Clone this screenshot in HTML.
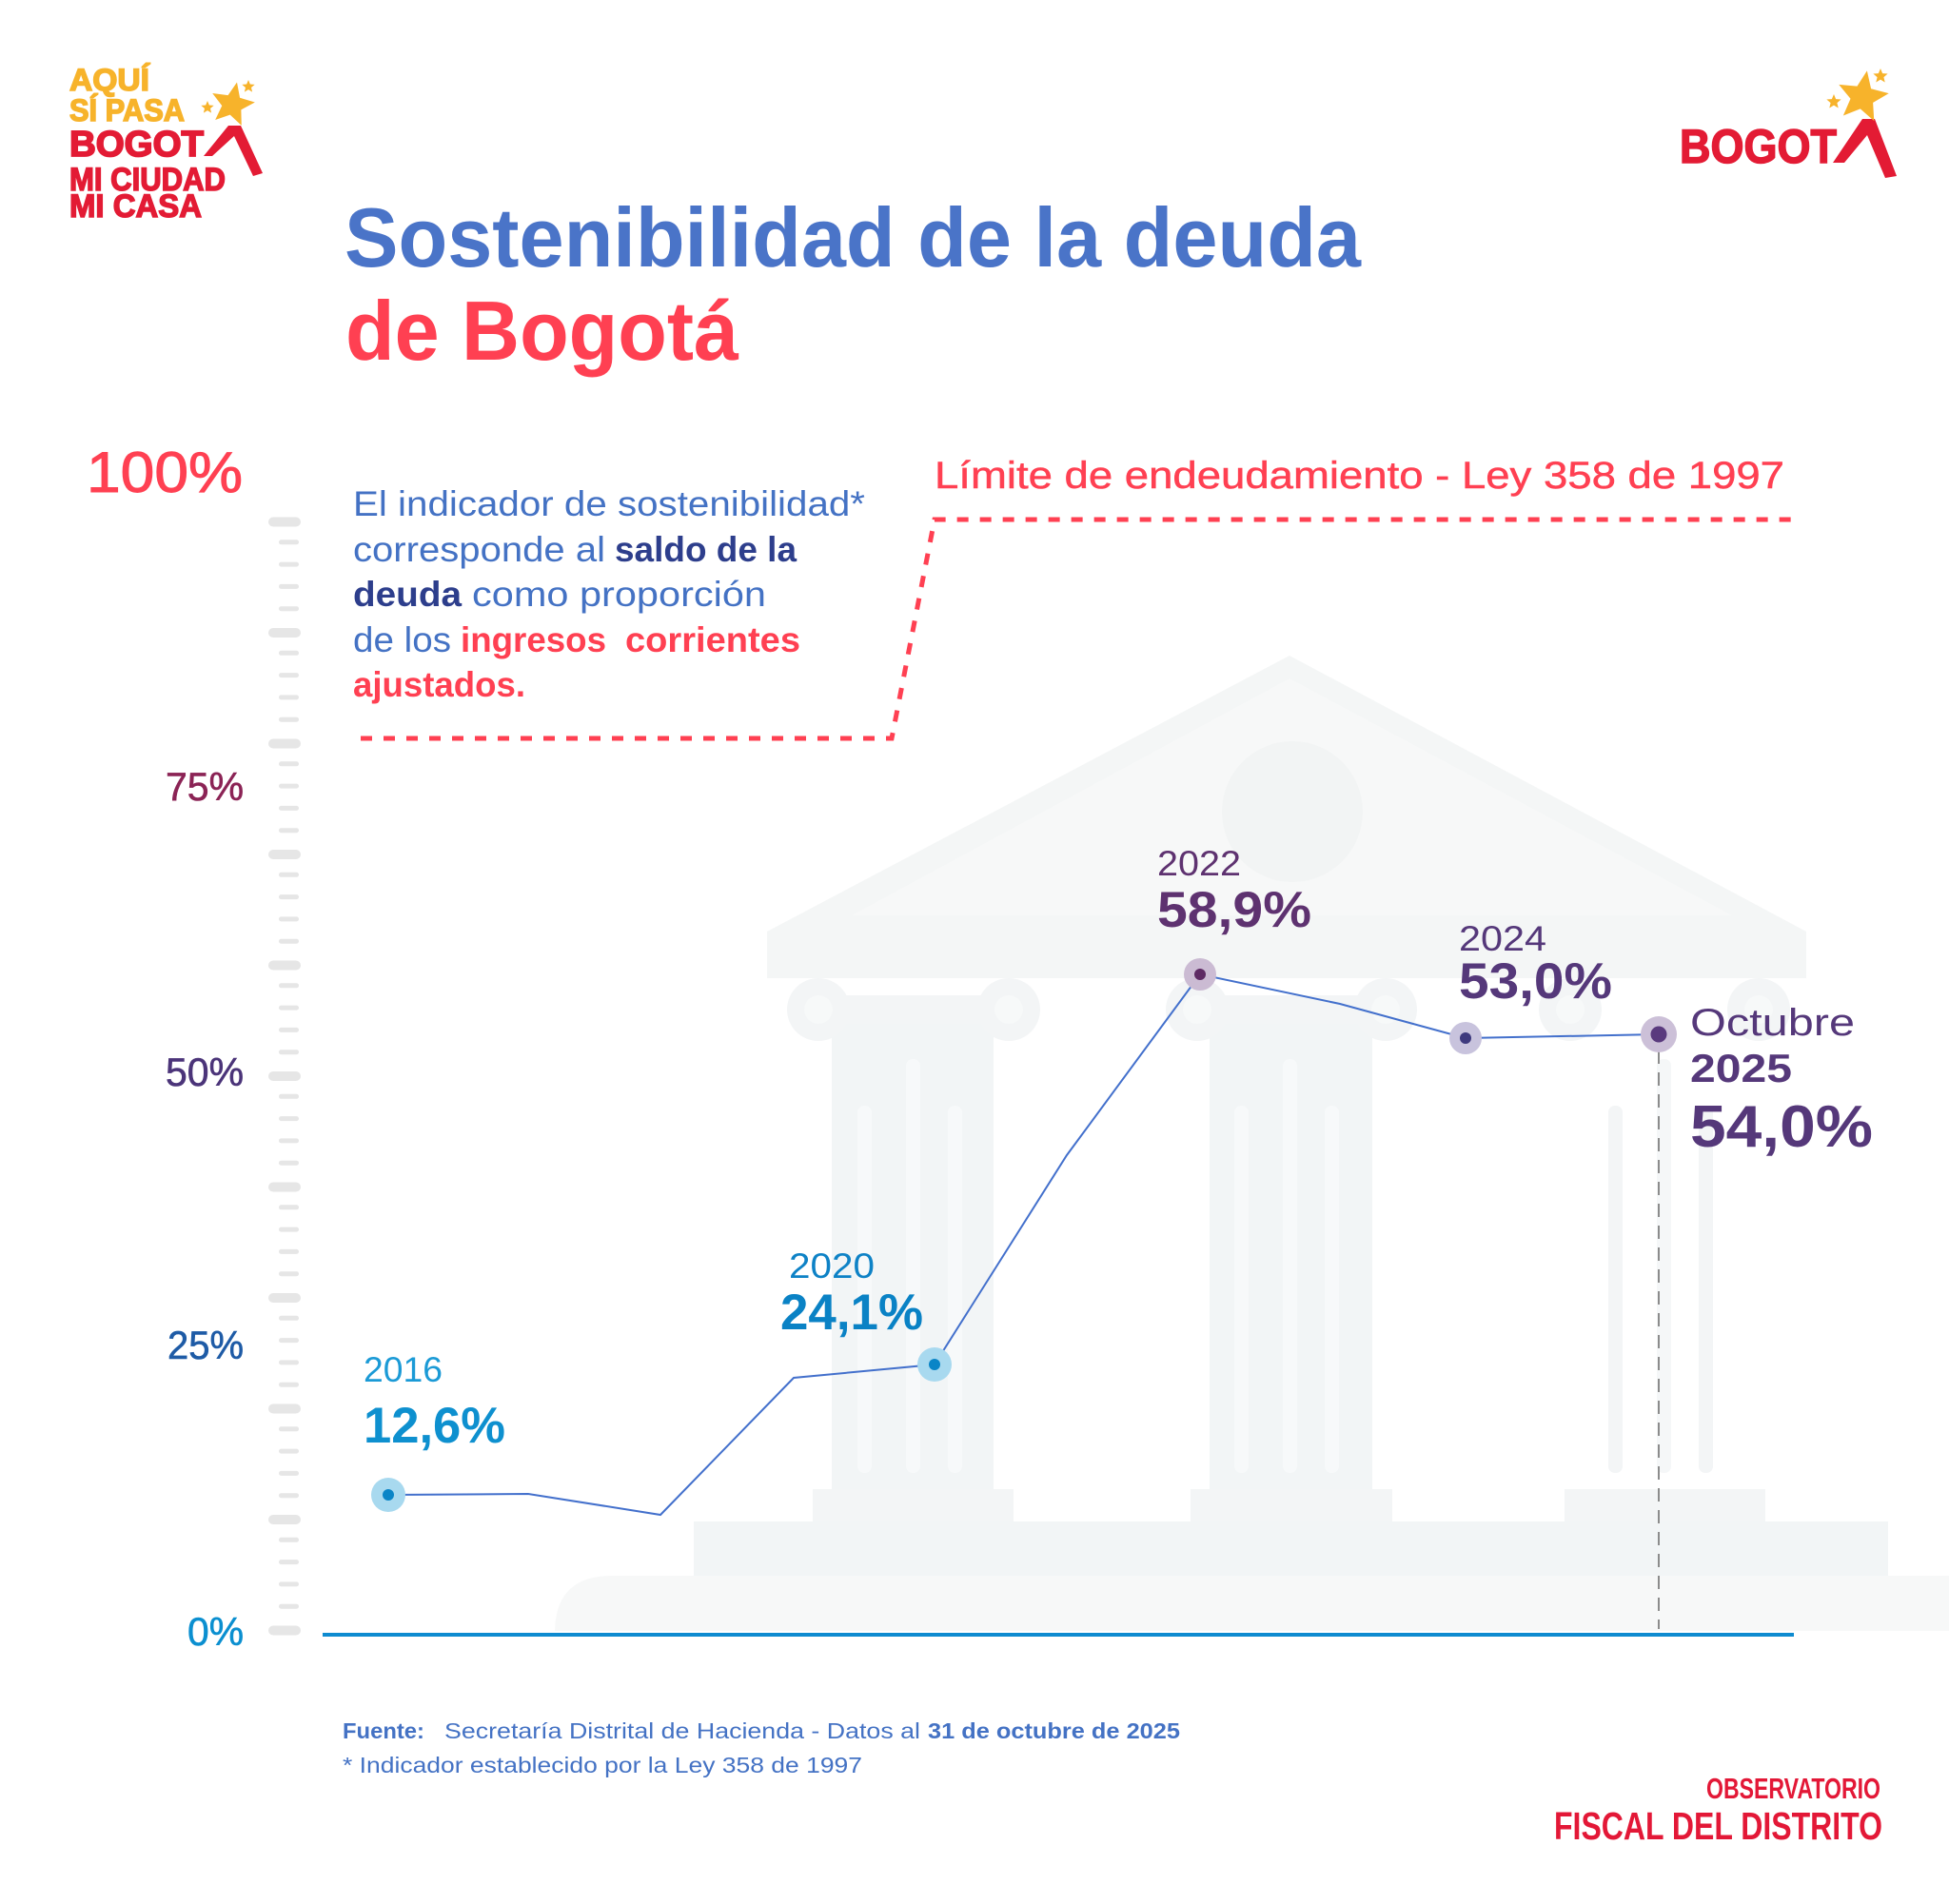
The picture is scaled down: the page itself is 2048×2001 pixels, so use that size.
<!DOCTYPE html>
<html><head><meta charset="utf-8">
<style>
html,body{margin:0;padding:0;background:#fff;}
svg{display:block;}
text{font-family:"Liberation Sans",sans-serif;}
</style></head>
<body>
<svg width="2048" height="2001" viewBox="0 0 2048 2001" xmlns="http://www.w3.org/2000/svg">
<rect width="2048" height="2001" fill="#fff"/>

<!-- Building background -->
<polygon points="1355,689 1898,979 806,979" fill="#F4F6F6"/>
<polygon points="1355,713 1820,962 895,962" fill="#F7F8F8"/>
<circle cx="1358" cy="853" r="74" fill="#F2F4F4"/>
<rect x="806" y="979" width="1092" height="49" fill="#F4F6F6"/>

<!-- left column -->
<rect x="874" y="1060" width="170" height="505" fill="#F2F5F6"/>
<rect x="858" y="1046" width="202" height="30" fill="#F3F5F6"/>
<circle cx="860" cy="1061" r="33" fill="#F3F5F6"/><circle cx="860" cy="1061" r="15" fill="#F7F9F9"/>
<circle cx="1060" cy="1061" r="33" fill="#F3F5F6"/><circle cx="1060" cy="1061" r="15" fill="#F7F9F9"/>
<rect x="901" y="1162" width="15" height="386" rx="7" fill="#F7F9FA"/>
<rect x="952" y="1113" width="15" height="435" rx="7" fill="#F7F9FA"/>
<rect x="996" y="1162" width="15" height="386" rx="7" fill="#F7F9FA"/>
<rect x="854" y="1565" width="211" height="34" fill="#F3F5F6"/>

<!-- middle column -->
<rect x="1271" y="1060" width="171" height="505" fill="#F2F5F6"/>
<rect x="1256" y="1046" width="202" height="30" fill="#F3F5F6"/>
<circle cx="1258" cy="1061" r="33" fill="#F3F5F6"/><circle cx="1258" cy="1061" r="15" fill="#F7F9F9"/>
<circle cx="1456" cy="1061" r="33" fill="#F3F5F6"/><circle cx="1456" cy="1061" r="15" fill="#F7F9F9"/>
<rect x="1297" y="1162" width="15" height="386" rx="7" fill="#F7F9FA"/>
<rect x="1348" y="1113" width="15" height="435" rx="7" fill="#F7F9FA"/>
<rect x="1392" y="1162" width="15" height="386" rx="7" fill="#F7F9FA"/>
<rect x="1251" y="1565" width="212" height="34" fill="#F3F5F6"/>

<!-- right column (white shaft) -->
<circle cx="1650" cy="1061" r="33" fill="#F3F5F6"/><circle cx="1650" cy="1061" r="15" fill="#F7F9F9"/>
<circle cx="1848" cy="1061" r="33" fill="#F3F5F6"/><circle cx="1848" cy="1061" r="15" fill="#F7F9F9"/>
<rect x="1690" y="1162" width="15" height="386" rx="7" fill="#F3F5F6"/>
<rect x="1741" y="1113" width="15" height="435" rx="7" fill="#F5F7F8"/>
<rect x="1785" y="1162" width="15" height="386" rx="7" fill="#F3F5F6"/>
<rect x="1644" y="1565" width="211" height="34" fill="#F3F5F6"/>

<!-- stylobate & platform -->
<rect x="729" y="1599" width="1255" height="57" fill="#F2F5F6"/>
<path d="M643,1656 L2048,1656 L2048,1714 L583,1714 L583,1716 Q583,1656 643,1656 Z" fill="#F7F8F8"/>

<!-- Ticks -->
<g fill="#E6E6E6">
<rect x="282" y="543.5" width="34" height="10" rx="5"/>
<rect x="293" y="567.3" width="21" height="5" rx="2.5"/>
<rect x="293" y="590.6" width="21" height="5" rx="2.5"/>
<rect x="293" y="613.9" width="21" height="5" rx="2.5"/>
<rect x="293" y="637.2" width="21" height="5" rx="2.5"/>
<rect x="282" y="660" width="34" height="10" rx="5"/>
<rect x="293" y="683.8" width="21" height="5" rx="2.5"/>
<rect x="293" y="707.1" width="21" height="5" rx="2.5"/>
<rect x="293" y="730.4" width="21" height="5" rx="2.5"/>
<rect x="293" y="753.7" width="21" height="5" rx="2.5"/>
<rect x="282" y="776.5" width="34" height="10" rx="5"/>
<rect x="293" y="800.3" width="21" height="5" rx="2.5"/>
<rect x="293" y="823.6" width="21" height="5" rx="2.5"/>
<rect x="293" y="846.9" width="21" height="5" rx="2.5"/>
<rect x="293" y="870.2" width="21" height="5" rx="2.5"/>
<rect x="282" y="893" width="34" height="10" rx="5"/>
<rect x="293" y="916.8" width="21" height="5" rx="2.5"/>
<rect x="293" y="940.1" width="21" height="5" rx="2.5"/>
<rect x="293" y="963.4" width="21" height="5" rx="2.5"/>
<rect x="293" y="986.7" width="21" height="5" rx="2.5"/>
<rect x="282" y="1009.5" width="34" height="10" rx="5"/>
<rect x="293" y="1033.3" width="21" height="5" rx="2.5"/>
<rect x="293" y="1056.6" width="21" height="5" rx="2.5"/>
<rect x="293" y="1079.9" width="21" height="5" rx="2.5"/>
<rect x="293" y="1103.2" width="21" height="5" rx="2.5"/>
<rect x="282" y="1126" width="34" height="10" rx="5"/>
<rect x="293" y="1149.8" width="21" height="5" rx="2.5"/>
<rect x="293" y="1173.1" width="21" height="5" rx="2.5"/>
<rect x="293" y="1196.4" width="21" height="5" rx="2.5"/>
<rect x="293" y="1219.7" width="21" height="5" rx="2.5"/>
<rect x="282" y="1242.5" width="34" height="10" rx="5"/>
<rect x="293" y="1266.3" width="21" height="5" rx="2.5"/>
<rect x="293" y="1289.6" width="21" height="5" rx="2.5"/>
<rect x="293" y="1312.9" width="21" height="5" rx="2.5"/>
<rect x="293" y="1336.2" width="21" height="5" rx="2.5"/>
<rect x="282" y="1359" width="34" height="10" rx="5"/>
<rect x="293" y="1382.8" width="21" height="5" rx="2.5"/>
<rect x="293" y="1406.1" width="21" height="5" rx="2.5"/>
<rect x="293" y="1429.4" width="21" height="5" rx="2.5"/>
<rect x="293" y="1452.7" width="21" height="5" rx="2.5"/>
<rect x="282" y="1475.5" width="34" height="10" rx="5"/>
<rect x="293" y="1499.3" width="21" height="5" rx="2.5"/>
<rect x="293" y="1522.6" width="21" height="5" rx="2.5"/>
<rect x="293" y="1545.9" width="21" height="5" rx="2.5"/>
<rect x="293" y="1569.2" width="21" height="5" rx="2.5"/>
<rect x="282" y="1592" width="34" height="10" rx="5"/>
<rect x="293" y="1615.8" width="21" height="5" rx="2.5"/>
<rect x="293" y="1639.1" width="21" height="5" rx="2.5"/>
<rect x="293" y="1662.4" width="21" height="5" rx="2.5"/>
<rect x="293" y="1685.7" width="21" height="5" rx="2.5"/>
<rect x="282" y="1708.5" width="34" height="10" rx="5"/>
</g>

<!-- Axis line -->
<line x1="339" y1="1718" x2="1885" y2="1718" stroke="#0E8BD0" stroke-width="4"/>

<!-- Limit dashed line -->
<path d="M379,776 L937,776 L982,546 L1885,546" fill="none" stroke="#FF4052" stroke-width="5" stroke-dasharray="12 12"/>

<!-- 2025 vertical dashed -->
<line x1="1743" y1="1104" x2="1743" y2="1712" stroke="#8C8C8C" stroke-width="2" stroke-dasharray="14 9"/>

<!-- Data line -->
<polyline points="408,1571 555,1570 694,1592 834,1448 982,1434 1121,1214 1261,1024 1408,1055 1540,1091 1743,1087" fill="none" stroke="#4370CC" stroke-width="2"/>

<!-- Markers -->
<circle cx="408" cy="1571" r="18" fill="#A8D9EF"/><circle cx="408" cy="1571" r="6" fill="#0A85C7"/>
<circle cx="982" cy="1434" r="18" fill="#A8D9EF"/><circle cx="982" cy="1434" r="6" fill="#0A85C7"/>
<circle cx="1261" cy="1024" r="17" fill="#CBBBD3"/><circle cx="1261" cy="1024" r="6" fill="#5E2A64"/>
<circle cx="1540" cy="1091" r="17" fill="#C8C3DD"/><circle cx="1540" cy="1091" r="6" fill="#3E3A7E"/>
<circle cx="1743" cy="1087" r="19" fill="#CCC0D8"/><circle cx="1743" cy="1087" r="8.5" fill="#5A3A7E"/>

<!-- Title -->
<text x="362" y="280" font-size="88" font-weight="bold" fill="#4A74C8" textLength="1068" lengthAdjust="spacingAndGlyphs">Sostenibilidad de la deuda</text>
<text x="363" y="378" font-size="88" font-weight="bold" fill="#FF4052" textLength="413" lengthAdjust="spacingAndGlyphs">de Bogotá</text>

<!-- Axis labels -->
<text x="91" y="517" font-size="60" fill="#FF4052" stroke="#FF4052" stroke-width="1" textLength="164" lengthAdjust="spacingAndGlyphs">100%</text>
<text x="256" y="841" font-size="42" text-anchor="end" fill="#8B2355" stroke="#8B2355" stroke-width="0.6" textLength="82" lengthAdjust="spacingAndGlyphs">75%</text>
<text x="256" y="1141" font-size="42" text-anchor="end" fill="#4B3479" stroke="#4B3479" stroke-width="0.6" textLength="82" lengthAdjust="spacingAndGlyphs">50%</text>
<text x="256" y="1428" font-size="42" text-anchor="end" fill="#1E5BA6" stroke="#1E5BA6" stroke-width="0.6" textLength="80" lengthAdjust="spacingAndGlyphs">25%</text>
<text x="256" y="1729" font-size="42" text-anchor="end" fill="#0B8FD0" stroke="#0B8FD0" stroke-width="0.6" textLength="59" lengthAdjust="spacingAndGlyphs">0%</text>

<!-- Limit label -->
<text x="982" y="513" font-size="40" fill="#FF4052" stroke="#FF4052" stroke-width="0.5" textLength="893" lengthAdjust="spacingAndGlyphs">Límite de endeudamiento - Ley 358 de 1997</text>

<!-- Description -->
<text x="371" y="542" font-size="37" fill="#4472C4" textLength="538" lengthAdjust="spacingAndGlyphs">El indicador de sostenibilidad*</text>
<text x="371" y="590" font-size="37" fill="#4472C4" textLength="265" lengthAdjust="spacingAndGlyphs">corresponde al</text>
<text x="646" y="590" font-size="37" font-weight="bold" fill="#2D3E8C" textLength="191" lengthAdjust="spacingAndGlyphs">saldo de la</text>
<text x="371" y="637" font-size="37" font-weight="bold" fill="#2D3E8C" textLength="114" lengthAdjust="spacingAndGlyphs">deuda</text>
<text x="496" y="637" font-size="37" fill="#4472C4" textLength="309" lengthAdjust="spacingAndGlyphs">como proporción</text>
<text x="371" y="685" font-size="37" fill="#4472C4" textLength="103" lengthAdjust="spacingAndGlyphs">de los</text>
<text x="484" y="685" font-size="37" font-weight="bold" fill="#FF4052" textLength="153" lengthAdjust="spacingAndGlyphs">ingresos</text>
<text x="657" y="685" font-size="37" font-weight="bold" fill="#FF4052" textLength="184" lengthAdjust="spacingAndGlyphs">corrientes</text>
<text x="371" y="732" font-size="37" font-weight="bold" fill="#FF4052" textLength="181" lengthAdjust="spacingAndGlyphs">ajustados.</text>

<!-- Data labels -->
<text x="382" y="1452" font-size="37" fill="#1B9AD6" textLength="83" lengthAdjust="spacingAndGlyphs">2016</text>
<text x="382" y="1516" font-size="53" font-weight="bold" fill="#0E90CF" textLength="149" lengthAdjust="spacingAndGlyphs">12,6%</text>
<text x="829" y="1343" font-size="37" fill="#0E82C6" textLength="90" lengthAdjust="spacingAndGlyphs">2020</text>
<text x="820" y="1397" font-size="53" font-weight="bold" fill="#0A82C5" textLength="150" lengthAdjust="spacingAndGlyphs">24,1%</text>
<text x="1216" y="920" font-size="37" fill="#5E3270" textLength="88" lengthAdjust="spacingAndGlyphs">2022</text>
<text x="1216" y="974" font-size="53" font-weight="bold" fill="#5E3270" textLength="162" lengthAdjust="spacingAndGlyphs">58,9%</text>
<text x="1533" y="999" font-size="37" fill="#55387A" textLength="92" lengthAdjust="spacingAndGlyphs">2024</text>
<text x="1533" y="1049" font-size="53" font-weight="bold" fill="#55387A" textLength="161" lengthAdjust="spacingAndGlyphs">53,0%</text>
<text x="1776" y="1088" font-size="40" fill="#55387A" textLength="173" lengthAdjust="spacingAndGlyphs">Octubre</text>
<text x="1776" y="1137" font-size="42" font-weight="bold" fill="#55387A" textLength="107" lengthAdjust="spacingAndGlyphs">2025</text>
<text x="1776" y="1205" font-size="62" font-weight="bold" fill="#55387A" textLength="192" lengthAdjust="spacingAndGlyphs">54,0%</text>

<!-- Footer -->
<text x="360" y="1827" font-size="23" font-weight="bold" fill="#4472C4" textLength="86" lengthAdjust="spacingAndGlyphs">Fuente:</text>
<text x="467" y="1827" font-size="23" fill="#4472C4" textLength="500" lengthAdjust="spacingAndGlyphs">Secretaría Distrital de Hacienda - Datos al</text>
<text x="975" y="1827" font-size="23" font-weight="bold" fill="#4472C4" textLength="265" lengthAdjust="spacingAndGlyphs">31 de octubre de 2025</text>
<text x="360" y="1863" font-size="23" fill="#4472C4" textLength="546" lengthAdjust="spacingAndGlyphs">* Indicador establecido por la Ley 358 de 1997</text>
<text x="1793" y="1890" font-size="31" font-weight="bold" fill="#E31837" textLength="183" lengthAdjust="spacingAndGlyphs">OBSERVATORIO</text>
<text x="1633" y="1933" font-size="41" font-weight="bold" fill="#E31837" textLength="345" lengthAdjust="spacingAndGlyphs">FISCAL DEL DISTRITO</text>

<!-- Left logo -->
<text x="73" y="95" font-size="32" font-weight="bold" fill="#F7B32B" stroke="#F7B32B" stroke-width="1.5" textLength="84" lengthAdjust="spacingAndGlyphs">AQUÍ</text>
<text x="73" y="127" font-size="32" font-weight="bold" fill="#F7B32B" stroke="#F7B32B" stroke-width="1.5" textLength="121" lengthAdjust="spacingAndGlyphs">SÍ PASA</text>
<text x="73" y="164" font-size="38" font-weight="bold" fill="#E31B34" stroke="#E31B34" stroke-width="1.8" textLength="141" lengthAdjust="spacingAndGlyphs">BOGOT</text>
<polygon points="214,164 240,132 253,132 276,182 266,185 246,143 223,164" fill="#E31B34"/>
<text x="73" y="200" font-size="34" font-weight="bold" fill="#E31B34" stroke="#E31B34" stroke-width="1.5" textLength="164" lengthAdjust="spacingAndGlyphs">MI CIUDAD</text>
<text x="73" y="228" font-size="34" font-weight="bold" fill="#E31B34" stroke="#E31B34" stroke-width="1.5" textLength="139" lengthAdjust="spacingAndGlyphs">MI CASA</text>
<g fill="#F7B32B">
<polygon transform="translate(244,110) rotate(12) scale(24)" points="0,-1 0.265,-0.364 0.951,-0.309 0.428,0.139 0.588,0.809 0,0.45 -0.588,0.809 -0.428,0.139 -0.951,-0.309 -0.265,-0.364"/>
<polygon transform="translate(261,91) scale(7)" points="0,-1 0.265,-0.364 0.951,-0.309 0.428,0.139 0.588,0.809 0,0.45 -0.588,0.809 -0.428,0.139 -0.951,-0.309 -0.265,-0.364"/>
<polygon transform="translate(218,113) scale(7)" points="0,-1 0.265,-0.364 0.951,-0.309 0.428,0.139 0.588,0.809 0,0.45 -0.588,0.809 -0.428,0.139 -0.951,-0.309 -0.265,-0.364"/>
</g>

<!-- Right logo -->
<text x="1765" y="171" font-size="50" font-weight="bold" fill="#E31B34" stroke="#E31B34" stroke-width="1.5" textLength="165" lengthAdjust="spacingAndGlyphs">BOGOT</text>
<polygon points="1926,171 1957,125 1970,125 1993,185 1981,187 1962,142 1938,171" fill="#E31B34"/>
<g fill="#F7B32B">
<polygon transform="translate(1957,102) rotate(10) scale(28)" points="0,-1 0.265,-0.364 0.951,-0.309 0.428,0.139 0.588,0.809 0,0.45 -0.588,0.809 -0.428,0.139 -0.951,-0.309 -0.265,-0.364"/>
<polygon transform="translate(1976,80) scale(8)" points="0,-1 0.265,-0.364 0.951,-0.309 0.428,0.139 0.588,0.809 0,0.45 -0.588,0.809 -0.428,0.139 -0.951,-0.309 -0.265,-0.364"/>
<polygon transform="translate(1927,107) scale(8)" points="0,-1 0.265,-0.364 0.951,-0.309 0.428,0.139 0.588,0.809 0,0.45 -0.588,0.809 -0.428,0.139 -0.951,-0.309 -0.265,-0.364"/>
</g>
</svg>
</body></html>
